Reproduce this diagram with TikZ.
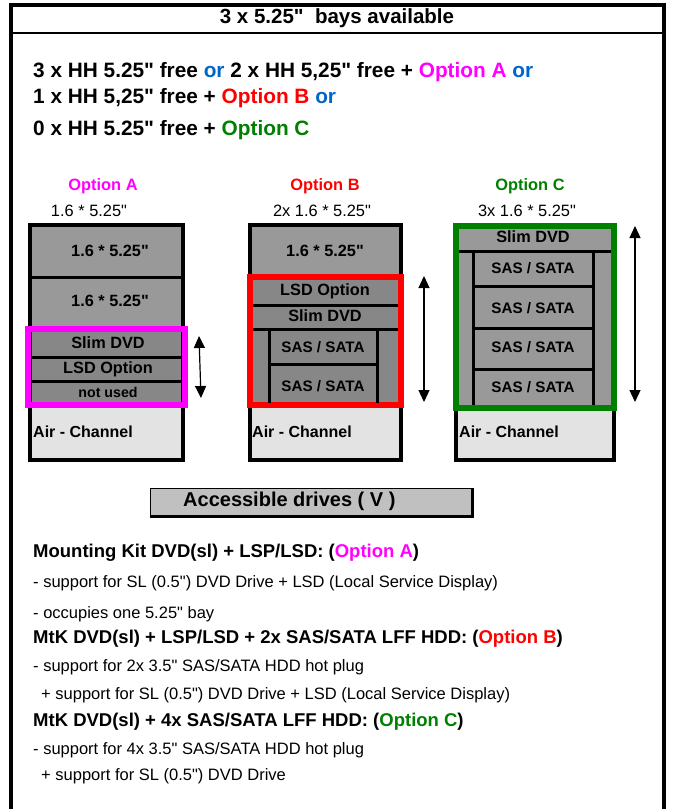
\documentclass[tikz,border=0pt]{standalone}
\usepackage{fontspec}
\setmainfont{Liberation Sans}[Ligatures=TeXOff]
\usetikzlibrary{arrows.meta}
\definecolor{optA}{HTML}{FF00FF}
\definecolor{optB}{HTML}{FF0000}
\definecolor{optC}{HTML}{008000}
\definecolor{orblue}{HTML}{0066CC}
\definecolor{baygray}{HTML}{999999}
\definecolor{kitgray}{HTML}{878787}
\definecolor{airgray}{HTML}{E3E3E3}
\definecolor{headgray}{HTML}{C0C0C0}
\begin{document}
\begin{tikzpicture}[x=1pt,y=-1pt,
    txt/.style={inner sep=0pt,anchor=west},
    head/.style={txt,font=\fontsize{20.8}{24}\selectfont\bfseries},
    note/.style={txt,font=\fontsize{18.5}{22}\selectfont\bfseries},
    plain/.style={txt,font=\fontsize{16.5}{20}\selectfont},
    optlabel/.style={inner sep=0pt,font=\fontsize{16.4}{20}\selectfont\bfseries},
    sizelabel/.style={inner sep=0pt,font=\fontsize{16.4}{20}\selectfont},
    baylabel/.style={inner sep=0pt,font=\fontsize{16.3}{20}\selectfont\bfseries},
    hddlabel/.style={inner sep=0pt,font=\fontsize{15.2}{18}\selectfont\bfseries},
    bayline/.style={line width=3.5pt},
    sepline/.style={line width=3pt},
    kitline/.style={line width=6pt},
    travel/.style={{Triangle[width=11pt,length=12pt]}-{Triangle[width=11pt,length=12pt]},line width=1.2pt}]
  \useasboundingbox (0,0) rectangle (673,809);

  % frame and header
  \draw[line width=4pt] (11,809) -- (11,5) -- (664,5) -- (664,809);
  \draw[line width=2pt] (11,33) -- (664,33);
  \node[inner sep=0pt,font=\fontsize{20.5}{24}\selectfont\bfseries] (title) at (337,18) {3 x 5.25"\ \ bays available};

  \node[head] (line1) at (33,72) {3 x HH 5.25" free {\color{orblue}or} 2 x HH 5,25" free + {\color{optA}Option A} {\color{orblue}or}};
  \node[head] (line2) at (33,98) {1 x HH 5,25" free + {\color{optB}Option B} {\color{orblue}or}};
  \node[head] (line3) at (33,130) {0 x HH 5.25" free + {\color{optC}Option C}};

  % option A
  \node[optlabel,text=optA] (optA) at (103,186) {Option A};
  \node[sizelabel] (sizeA) at (89,211) {1.6 * 5.25"};
  \fill[baygray] (30,225) rectangle (183,329);
  \fill[kitgray] (30,329) rectangle (183,405);
  \fill[airgray] (30,405) rectangle (183,460);
  \draw[bayline] (30,225) rectangle (183,460);
  \draw[sepline] (30,277) -- (183,277);
  \draw[optA,kitline] (28,329) rectangle (185,405);
  \draw[sepline] (31,357) -- (182,357);
  \draw[sepline] (31,381) -- (182,381);
  \node[baylabel] (bayA1) at (110,251) {1.6 * 5.25"};
  \node[baylabel] (bayA2) at (110,301) {1.6 * 5.25"};
  \node[baylabel] (dvdA) at (108,343) {Slim DVD};
  \node[baylabel] (lsdA) at (108,369) {LSD Option};
  \node[inner sep=0pt,font=\fontsize{14.2}{17}\selectfont\bfseries] (freeA) at (108,392) {not used};
  \node[note,font=\fontsize{16}{20}\selectfont\bfseries] (airA) at (33,432) {Air - Channel};
  \coordinate (upA) at (199,336);
  \coordinate (downA) at (201,398);
  \draw[travel] (upA) -- (downA);

  % option B
  \node[optlabel,text=optB] (optB) at (325,186) {Option B};
  \node[sizelabel] (sizeB) at (322,211) {2x 1.6 * 5.25"};
  \fill[baygray] (250,225) rectangle (401,277);
  \fill[kitgray] (250,277) rectangle (401,405);
  \fill[airgray] (250,405) rectangle (401,460);
  \draw[bayline] (250,225) rectangle (401,460);
  \draw[optB,kitline] (250,277) rectangle (401,405);
  \draw[sepline] (253,305) -- (398,305);
  \draw[sepline] (253,329) -- (398,329);
  \draw[sepline] (269,329) -- (269,403);
  \draw[sepline] (377,329) -- (377,403);
  \draw[sepline] (269,364) -- (377,364);
  \node[baylabel] (bayB1) at (325,251) {1.6 * 5.25"};
  \node[baylabel] (lsdB) at (325,291) {LSD Option};
  \node[baylabel] (dvdB) at (325,316) {Slim DVD};
  \node[hddlabel] (hddB1) at (323,347) {SAS / SATA};
  \node[hddlabel] (hddB2) at (323,386) {SAS / SATA};
  \node[note,font=\fontsize{16}{20}\selectfont\bfseries] (airB) at (252,432) {Air - Channel};
  \coordinate (upB) at (424,276);
  \coordinate (downB) at (424,402);
  \draw[travel] (upB) -- (downB);

  % option C
  \node[optlabel,text=optC] (optC) at (530,186) {Option C};
  \node[sizelabel] (sizeC) at (527,211) {3x 1.6 * 5.25"};
  \fill[baygray] (456,226) rectangle (614,408);
  \fill[airgray] (456,408) rectangle (614,460);
  \draw[bayline] (456,408) rectangle (614,460);
  \draw[optC,kitline] (456,226) rectangle (614,408);
  \draw[sepline] (459,251) -- (611,251);
  \draw[sepline] (473,251) -- (473,405);
  \draw[sepline] (593,251) -- (593,405);
  \foreach \y in {286,328,369}
    \draw[sepline] (473,\y) -- (593,\y);
  \node[baylabel] (dvdC) at (533,237) {Slim DVD};
  \node[hddlabel] (hddC1) at (533,268) {SAS / SATA};
  \node[hddlabel] (hddC2) at (533,308) {SAS / SATA};
  \node[hddlabel] (hddC3) at (533,347) {SAS / SATA};
  \node[hddlabel] (hddC4) at (533,387) {SAS / SATA};
  \node[note,font=\fontsize{16}{20}\selectfont\bfseries] (airC) at (459,432) {Air - Channel};
  \coordinate (upC) at (635,226);
  \coordinate (downC) at (635,402);
  \draw[travel] (upC) -- (downC);

  % accessible drives
  \fill[headgray] (150,488) rectangle (473,515);
  \draw[line width=1pt] (150,515) -- (150,488) -- (472,488);
  \draw[line width=3pt] (472,488) -- (472,516) -- (150,516);
  \node[txt,font=\fontsize{20}{24}\selectfont\bfseries] (access) at (183,501) {Accessible drives ( V )};

  % option notes
  \node[note] (kitA) at (33,553) {Mounting Kit DVD(sl) + LSP/LSD: ({\color{optA}Option A})};
  \node[plain] (kitA1) at (33,583) {- support for SL (0.5") DVD Drive + LSD (Local Service Display)};
  \node[plain] (kitA2) at (33,614) {- occupies one 5.25" bay};
  \node[note] (kitB) at (33,639) {MtK DVD(sl) + LSP/LSD + 2x SAS/SATA LFF HDD: ({\color{optB}Option B})};
  \node[plain] (kitB1) at (33,667) {- support for 2x 3.5" SAS/SATA HDD hot plug};
  \node[plain] (kitB2) at (41,695) {+ support for SL (0.5") DVD Drive + LSD (Local Service Display)};
  \node[note] (kitC) at (33,722) {MtK DVD(sl) + 4x SAS/SATA LFF HDD: ({\color{optC}Option C})};
  \node[plain] (kitC1) at (33,750) {- support for 4x 3.5" SAS/SATA HDD hot plug};
  \node[plain] (kitC2) at (41,776) {+ support for SL (0.5") DVD Drive};
\end{tikzpicture}
\end{document}
